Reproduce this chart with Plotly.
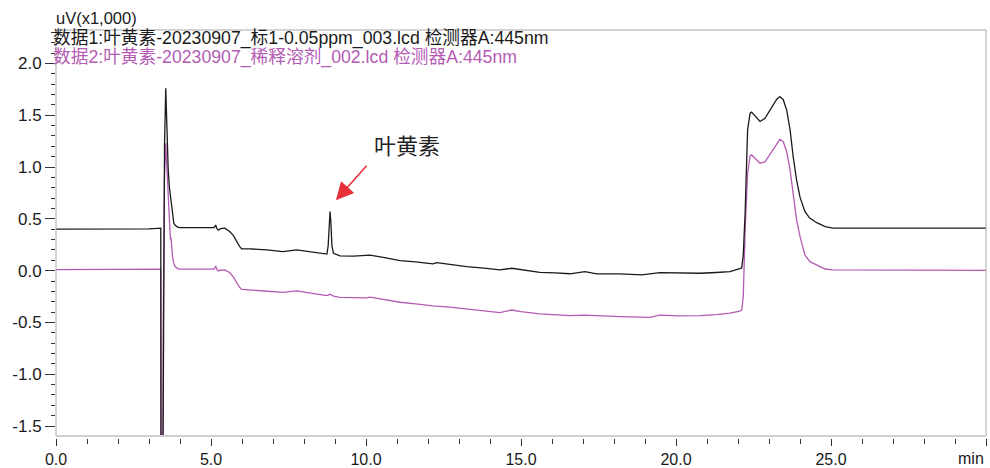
import plotly.graph_objects as go

# ---------------- data ----------------
# Series 1 (black): 数据1 标1-0.05ppm
t1 = [0.0, 1.0, 2.0, 3.0, 3.38, 3.39, 3.44, 3.46, 3.50, 3.54, 3.58, 3.62, 3.66, 3.69,
      3.70, 3.72, 3.76, 3.80, 3.84, 3.92, 4.0, 4.5, 5.0, 5.10, 5.15, 5.20, 5.24, 5.30,
      5.45, 5.61, 5.72, 5.83, 5.92, 5.99, 6.26, 6.8, 7.32, 7.76, 8.2, 8.74, 8.78, 8.81,
      8.84, 8.87, 8.90, 8.95, 9.16, 9.6, 10.13, 10.6, 11.1, 11.6, 12.16, 12.28, 12.7,
      13.25, 13.8, 14.32, 14.7, 15.0, 15.61, 16.1, 16.58, 17.06, 17.45, 18.19, 18.9,
      19.48, 20.1, 20.77, 21.3, 21.74, 22.06, 22.12, 22.17, 22.23, 22.31, 22.39, 22.44,
      22.55, 22.71, 22.87, 23.09, 23.25, 23.35, 23.46, 23.57, 23.68, 23.78, 23.89, 24.0,
      24.16, 24.32, 24.54, 24.81, 25.06, 25.5, 26.0, 27.0, 28.0, 29.0, 30.0]
v1 = [0.400, 0.400, 0.402, 0.404, 0.410, -2.5, -2.5, -0.5, 1.20, 1.76, 1.35, 0.97, 0.80, 0.72,
      0.70, 0.62, 0.52, 0.46, 0.44, 0.42, 0.415, 0.412, 0.410, 0.415, 0.440, 0.400, 0.390, 0.405,
      0.410, 0.376, 0.340, 0.280, 0.235, 0.210, 0.210, 0.200, 0.183, 0.200, 0.185, 0.160, 0.240, 0.460,
      0.570, 0.450, 0.240, 0.168, 0.142, 0.140, 0.150, 0.125, 0.097, 0.085, 0.065, 0.077, 0.060,
      0.039, 0.025, 0.007, 0.023, 0.010, -0.016, -0.022, -0.030, -0.010, -0.032, -0.032, -0.040,
      -0.019, -0.025, -0.025, -0.018, -0.010, 0.020, 0.026, 0.150, 0.560, 1.360, 1.520, 1.530,
      1.490, 1.440, 1.470, 1.570, 1.655, 1.680, 1.650, 1.550, 1.360, 1.100, 0.875, 0.710,
      0.570, 0.505, 0.463, 0.425, 0.410, 0.410, 0.410, 0.412, 0.410, 0.410, 0.410]

# Series 2 (purple): 数据2 稀释溶剂
t2 = [0.0, 1.0, 2.0, 3.0, 3.38, 3.39, 3.44, 3.46, 3.50, 3.54, 3.58, 3.62, 3.66, 3.69,
      3.71, 3.73, 3.76, 3.80, 3.84, 3.92, 4.0, 4.5, 5.0, 5.10, 5.15, 5.20, 5.24, 5.30,
      5.45, 5.61, 5.72, 5.83, 5.92, 5.99, 6.26, 6.8, 7.32, 7.76, 8.2, 8.73, 8.84, 8.95,
      9.16, 10.0, 10.13, 10.6, 11.1, 11.6, 12.16, 12.7, 13.25, 13.8, 14.32, 14.7, 15.0,
      15.61, 16.1, 16.58, 17.06, 17.45, 18.19, 19.15, 19.48, 20.1, 20.77, 21.3, 21.74,
      22.06, 22.12, 22.17, 22.23, 22.31, 22.39, 22.44, 22.55, 22.71, 22.87, 23.09, 23.25,
      23.35, 23.46, 23.57, 23.68, 23.78, 23.89, 24.0, 24.16, 24.32, 24.54, 24.81, 25.06,
      26.0, 27.0, 28.0, 29.0, 30.0]
v2 = [0.010, 0.012, 0.012, 0.013, 0.015, -2.5, -2.5, -0.5, 0.90, 1.23, 0.95, 0.65, 0.42, 0.30,
      0.32, 0.22, 0.135, 0.070, 0.040, 0.020, 0.015, 0.014, 0.013, 0.015, 0.045, 0.005, -0.003, 0.004,
      0.007, -0.020, -0.060, -0.120, -0.160, -0.180, -0.185, -0.195, -0.210, -0.196, -0.215, -0.240,
      -0.228, -0.245, -0.257, -0.262, -0.255, -0.280, -0.305, -0.320, -0.340, -0.352, -0.370,
      -0.385, -0.405, -0.380, -0.395, -0.418, -0.425, -0.435, -0.430, -0.437, -0.444, -0.450,
      -0.430, -0.436, -0.434, -0.425, -0.410, -0.390, -0.380, -0.250, 0.390, 0.940, 1.107,
      1.117, 1.080, 1.037, 1.050, 1.150, 1.235, 1.268, 1.245, 1.150, 0.970, 0.714, 0.490,
      0.330, 0.150, 0.087, 0.052, 0.016, 0.007, 0.005, 0.003, 0.002, 0.002, 0.002]

x_tick_vals = [0, 5, 10, 15, 20, 25, 30]
x_tick_text = ["0.0", "5.0", "10.0", "15.0", "20.0", "25.0", ""]
y_tick_vals = [-1.5, -1.0, -0.5, 0.0, 0.5, 1.0, 1.5, 2.0]
y_tick_text = ["-1.5", "-1.0", "-0.5", "0.0", "0.5", "1.0", "1.5", "2.0"]

name1 = "数据1:叶黄素-20230907_标1-0.05ppm_003.lcd 检测器A:445nm"
name2 = "数据2:叶黄素-20230907_稀释溶剂_002.lcd 检测器A:445nm"
peak_label = "叶黄素"
peak_tip = (9.03, 0.68)
peak_text_pos = (11.31, 1.226)

BLACK = "#1a1a1a"
PURPLE = "#b45cb4"
FONT = "Liberation Sans, Arial, Noto Sans CJK SC, sans-serif"

fig = go.Figure()
fig.add_trace(go.Scatter(x=t2, y=v2, mode="lines", name=name2,
                         line=dict(color=PURPLE, width=1.3)))
fig.add_trace(go.Scatter(x=t1, y=v1, mode="lines", name=name1,
                         line=dict(color=BLACK, width=1.3)))

fig.update_layout(
    width=990, height=468,
    margin=dict(l=56, r=4, t=30, b=30, autoexpand=False),
    paper_bgcolor="white", plot_bgcolor="white",
    showlegend=False,
    font=dict(family=FONT, size=16, color=BLACK),
    xaxis=dict(
        range=[0, 30], anchor="free", position=0, automargin=False,
        tickmode="array", tickvals=x_tick_vals, ticktext=x_tick_text,
        ticks="outside", ticklen=7, tickwidth=1, tickcolor="#333",
        minor=dict(dtick=1, tick0=0, ticks="outside", ticklen=5, tickcolor="#333"),
        showgrid=False, zeroline=False, showline=False,
        tickfont=dict(size=16),
    ),
    yaxis=dict(
        range=[-1.596, 2.323], domain=[0.0049, 1], automargin=False,
        tickmode="array", tickvals=y_tick_vals, ticktext=y_tick_text,
        ticks="outside", ticklen=10, tickwidth=1, tickcolor="#333",
        minor=dict(dtick=0.1, tick0=0, ticks="outside", ticklen=4, tickcolor="#333"),
        showgrid=False, zeroline=False, showline=False,
        tickfont=dict(size=17),
    ),
)

# frame
fig.add_shape(type="rect", xref="x domain", yref="y domain", x0=0, x1=1, y0=0, y1=1,
              line=dict(color="#a8a8a8", width=1), layer="above")
fig.add_shape(type="line", xref="x domain", yref="y domain", x0=0, x1=1, y0=0, y1=0,
              line=dict(color="#cfcfcf", width=2), layer="above")

# texts
fig.add_annotation(text="uV(x1,000)", xref="paper", yref="paper", x=0, y=1,
                   xanchor="left", yanchor="middle", xshift=-2, yshift=12,
                   showarrow=False, font=dict(size=16.5, color=BLACK))
fig.add_annotation(text=name1, xref="paper", yref="paper", x=0, y=1,
                   xanchor="left", yanchor="middle", xshift=-5, yshift=-8,
                   showarrow=False, font=dict(size=17.7, color=BLACK))
fig.add_annotation(text=name2, xref="paper", yref="paper", x=0, y=1,
                   xanchor="left", yanchor="middle", xshift=-5, yshift=-27,
                   showarrow=False, font=dict(size=17.7, color=PURPLE))
fig.add_annotation(text="min", xref="paper", yref="paper", x=1, y=0,
                   xanchor="right", yanchor="middle", yshift=-20,
                   showarrow=False, font=dict(size=16, color=BLACK))
fig.add_annotation(text=peak_label, x=peak_text_pos[0], y=peak_text_pos[1],
                   xref="x", yref="y", showarrow=False,
                   font=dict(size=22, color="#222", family="Noto Sans CJK SC"))
fig.add_annotation(text="", x=peak_tip[0], y=peak_tip[1], xref="x", yref="y",
                   showarrow=True, ax=32, ay=-36, arrowhead=2, arrowsize=2.2,
                   arrowwidth=1.6, arrowcolor="#e8303a")

fig.write_html("out.html")
